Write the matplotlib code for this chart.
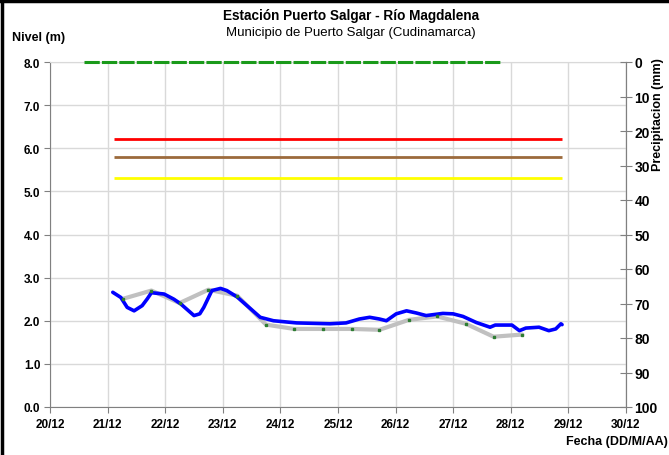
import matplotlib
matplotlib.use("Agg")
import matplotlib.pyplot as plt
from matplotlib.lines import Line2D
from matplotlib import font_manager

# ---------------- data ----------------
level_days = [21.09, 21.23, 21.34, 21.46, 21.60, 21.69, 21.76, 21.98, 22.15, 22.27, 22.50, 22.60, 22.67,
              22.81, 22.96, 23.07, 23.25, 23.42, 23.65, 23.88, 24.28, 24.86, 25.14,
              25.37, 25.55, 25.72, 25.84, 26.01, 26.19, 26.36, 26.53, 26.82, 27.00,
              27.17, 27.40, 27.64, 27.73, 27.80, 28.02, 28.15, 28.26, 28.49, 28.66,
              28.78, 28.87, 28.89]
level_vals = [2.66, 2.54, 2.31, 2.23, 2.35, 2.51, 2.65, 2.62, 2.50, 2.39, 2.12, 2.16, 2.31,
              2.70, 2.75, 2.70, 2.55, 2.35, 2.08, 2.00, 1.95, 1.93, 1.95,
              2.04, 2.08, 2.04, 2.00, 2.16, 2.23, 2.18, 2.12, 2.17, 2.16,
              2.10, 1.96, 1.85, 1.90, 1.90, 1.90, 1.77, 1.83, 1.85, 1.77,
              1.81, 1.93, 1.91]

smooth_days = [21.27, 21.76, 22.25, 22.75, 23.25, 23.75, 24.24, 24.74, 25.24, 25.72,
               26.23, 26.72, 27.22, 27.70, 28.20]
smooth_vals = [2.51, 2.70, 2.41, 2.72, 2.58, 1.91, 1.81, 1.81, 1.81, 1.79,
               2.02, 2.10, 1.93, 1.63, 1.68]

precip_days = [20.59, 27.85]
precip_vals = [0, 0]

threshold_days = [21.11, 28.89]
threshold_red = 6.22
threshold_brown = 5.80
threshold_yellow = 5.31

xticks = [20, 21, 22, 23, 24, 25, 26, 27, 28, 29, 30]
xtick_labels = ["20/12", "21/12", "22/12", "23/12", "24/12", "25/12",
                "26/12", "27/12", "28/12", "29/12", "30/12"]
yticks = [0, 1, 2, 3, 4, 5, 6, 7, 8]
ptick = [0, 10, 20, 30, 40, 50, 60, 70, 80, 90, 100]

# ---------------- fonts ----------------
names = {f.name for f in font_manager.fontManager.ttflist}
narrow = "Liberation Sans Narrow" if "Liberation Sans Narrow" in names else "Liberation Sans"
plt.rcParams["font.family"] = ["Liberation Sans", "DejaVu Sans"]

fig = plt.figure(figsize=(6.69, 4.56), dpi=100)
ax = fig.add_axes([50 / 669, 1 - 408 / 456, (626 - 50) / 669, (408 - 63) / 456])

grid_c = "#d9d9d9"
spine_c = "#808080"

# thresholds
ax.plot(threshold_days, [threshold_red] * 2, color="#ff0000", lw=2, solid_capstyle="butt", zorder=3)
ax.plot(threshold_days, [threshold_brown] * 2, color="#9c6a3c", lw=2, solid_capstyle="butt", zorder=3)
ax.plot(threshold_days, [threshold_yellow] * 2, color="#ffff00", lw=2, solid_capstyle="butt", zorder=3)

# smoothed series
ax.plot(smooth_days, smooth_vals, color="#c0c0c0", lw=3, solid_joinstyle="round",
        solid_capstyle="round", zorder=4)
ax.plot(smooth_days, smooth_vals, ls="none", marker="s", ms=2, color="#2e7d32", zorder=6)
# level
ax.plot(level_days, level_vals, color="#0000ff", lw=2.6, solid_joinstyle="round",
        solid_capstyle="round", zorder=5)

ax.set_xlim(20, 30)
ax.set_ylim(0, 8)
ax.set_xticks(xticks)
ax.set_xticklabels(xtick_labels)
ax.set_yticks(yticks)
ax.set_yticklabels([f"{v:.1f}" for v in yticks])
ax.grid(True, color=grid_c, lw=1)
ax.set_axisbelow(True)
for s in ax.spines.values():
    s.set_color(spine_c)
ax.spines["top"].set_color(grid_c)
ax.tick_params(axis="both", direction="out", length=4, color=spine_c, labelsize=8.5, pad=3)
ax.tick_params(axis="x", pad=4)
for lab in ax.get_xticklabels() + ax.get_yticklabels():
    lab.set_fontweight("bold")

# precipitation axis
ax2 = ax.twinx()
ax2.set_ylim(100, 0)
ax2.set_yticks(ptick)
ax2.tick_params(axis="y", direction="inout", length=8, color=spine_c, labelsize=10, pad=2)
for lab in ax2.get_yticklabels():
    lab.set_fontweight("bold")
for s in ax2.spines.values():
    s.set_visible(False)
ax2.spines["right"].set_visible(True)
ax2.spines["right"].set_color(spine_c)
ax2.plot(precip_days, precip_vals, color="#1a9a1a", lw=2.2, ls=(0, (5, 0.7)), zorder=7, clip_on=False)

# texts
fig.text(351 / 669, 1 - 16 / 456, "Estación Puerto Salgar - Río Magdalena", ha="center", va="center",
         fontsize=9.8, fontweight="bold", family=[narrow, "DejaVu Sans"])
fig.text(351 / 669, 1 - 33 / 456, "Municipio de Puerto Salgar (Cudinamarca)", ha="center", va="center",
         fontsize=9.5, family=[narrow, "DejaVu Sans"])
fig.text(12 / 669, 1 - 38 / 456, "Nivel (m)", ha="left", va="center", fontsize=9, fontweight="bold")
fig.text(658 / 669, 1 - 115 / 456, "Precipitacion (mm)", ha="center", va="center", rotation=90,
         fontsize=9, fontweight="bold")
fig.text(668 / 669, 1 - 442 / 456, "Fecha (DD/M/AA)", ha="right", va="center", fontsize=9, fontweight="bold")

# outer frame (top and left edges)
fig.add_artist(Line2D([0, 1], [1 - 1.5 / 456] * 2, transform=fig.transFigure, color="black", lw=2.5))
fig.add_artist(Line2D([1.5 / 669] * 2, [0, 1], transform=fig.transFigure, color="black", lw=2.5))

fig.savefig("out.png", dpi=100)
